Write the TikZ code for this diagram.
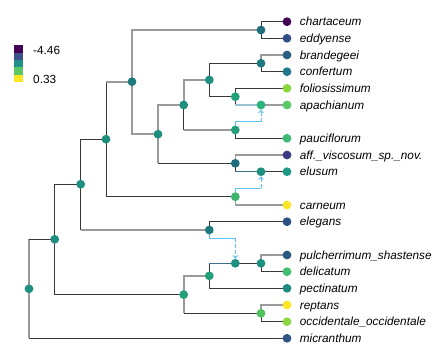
\documentclass[tikz,border=0pt]{standalone}
\usepackage{fontspec}
\setmainfont{Liberation Sans}
\usetikzlibrary{arrows.meta,backgrounds}

% branch colours
\definecolor{greyline}{HTML}{9A9A9A}
\definecolor{darkline}{HTML}{383838}
\definecolor{hybblue}{HTML}{5EC3F2}
\definecolor{majblue}{HTML}{3E6F8E}
\definecolor{majlight}{HTML}{9DC2D3}
% viridis scale
\definecolor{v1}{HTML}{440154}
\definecolor{v2}{HTML}{3B528B}
\definecolor{v3}{HTML}{21908C}
\definecolor{v4}{HTML}{5DC863}
\definecolor{v5}{HTML}{FDE725}
% node fills
\definecolor{tealA}{HTML}{1F8F80}
\definecolor{tealB}{HTML}{1F7A80}
\definecolor{tealC}{HTML}{1F6E7F}
\definecolor{greenA}{HTML}{22A07A}
\definecolor{greenB}{HTML}{2EB27C}
\definecolor{greenC}{HTML}{3EB46B}
\definecolor{greenD}{HTML}{50C060}
\definecolor{leddy}{HTML}{30508A}
\definecolor{lbrand}{HTML}{2B5F81}
\definecolor{lconf}{HTML}{22788B}
\definecolor{lfolio}{HTML}{8CD640}
\definecolor{lapach}{HTML}{5AC864}
\definecolor{lpauci}{HTML}{3CBB74}
\definecolor{laff}{HTML}{3A3A86}
\definecolor{lelus}{HTML}{1F9A89}
\definecolor{leleg}{HTML}{2A5183}
\definecolor{lpulch}{HTML}{29587F}
\definecolor{ldelic}{HTML}{44BF70}
\definecolor{lpect}{HTML}{1E8A82}
\definecolor{lmicr}{HTML}{2E5784}

\tikzset{
  vtx/.style={circle,inner sep=0pt,minimum size=8.8pt,fill=#1},
  lbl/.style={font=\fontsize{11.8}{14}\selectfont\itshape,inner sep=0pt,
    text height=8.4pt,text depth=0pt},
  leg/.style={font=\fontsize{11.8}{14}\selectfont,inner sep=0pt,
    text height=8.4pt,text depth=0pt,anchor=west},
  gr/.style={draw=greyline,line width=1.6pt},
  dk/.style={draw=darkline,line width=1pt},
  maj/.style={draw=majblue,line width=1.1pt},
  majlt/.style={draw=majlight,line width=1.4pt},
  hyb/.style={draw=hybblue,line width=1pt},
  hybarrow/.style={hyb,dash pattern=on 4pt off 2pt,
    -{Straight Barb[length=2.5pt,width=4.5pt]}}
}

\begin{document}
\begin{tikzpicture}[x=1pt,y=-1pt,label distance=8.1pt]
  \useasboundingbox (0,0) rectangle (432,360);
  % legend
  \fill[v1] (14,45.3) rectangle (22.7,52.7);
  \fill[v2] (14,52.7) rectangle (22.7,60.0);
  \fill[v3] (14,60.0) rectangle (22.7,67.3);
  \fill[v4] (14,67.3) rectangle (22.7,74.7);
  \fill[v5] (14,74.7) rectangle (22.7,82.0);
  \node[leg] (legmin) at (33,50.7) {-4.46};
  \node[leg] (legmax) at (33,79.3) {0.33};
  % tips
  \node[vtx=v1,label={[lbl]right:chartaceum}] (chart) at (287,21.7) {};
  \node[vtx=leddy,label={[lbl]right:eddyense}] (eddy) at (287,38.3) {};
  \node[vtx=lbrand,label={[lbl]right:brandegeei}] (brand) at (287,55.0) {};
  \node[vtx=lconf,label={[lbl]right:confertum}] (conf) at (287,71.7) {};
  \node[vtx=lfolio,label={[lbl]right:foliosissimum}] (folio) at (287,88.3) {};
  \node[vtx=lapach,label={[lbl]right:apachianum}] (apach) at (287,105.0) {};
  \node[vtx=lpauci,label={[lbl]right:pauciflorum}] (pauci) at (287,138.3) {};
  \node[vtx=laff,label={[lbl]right:aff.\_viscosum\_sp.\_nov.}] (aff) at (287,155.0) {};
  \node[vtx=lelus,label={[lbl]right:elusum}] (elus) at (287,171.7) {};
  \node[vtx=v5,label={[lbl]right:carneum}] (carn) at (287,205.0) {};
  \node[vtx=leleg,label={[lbl]right:elegans}] (eleg) at (287,221.7) {};
  \node[vtx=lpulch,label={[lbl]right:pulcherrimum\_shastense}] (pulch) at (287,255.0) {};
  \node[vtx=ldelic,label={[lbl]right:delicatum}] (delic) at (287,271.7) {};
  \node[vtx=lpect,label={[lbl]right:pectinatum}] (pect) at (287,288.3) {};
  \node[vtx=v5,label={[lbl]right:reptans}] (rept) at (287,305.0) {};
  \node[vtx=lfolio,label={[lbl]right:occidentale\_occidentale}] (occid) at (287,321.7) {};
  \node[vtx=lmicr,label={[lbl]right:micranthum}] (micr) at (287,338.3) {};
  % internal nodes
  \node[vtx=tealA] (root) at (29,288.8) {};
  \node[vtx=tealA] (n1) at (54.7,239.3) {};
  \node[vtx=tealA] (n2) at (80.7,184.2) {};
  \node[vtx=tealA] (n3) at (106,139.2) {};
  \node[vtx=tealB] (n4) at (132,81.7) {};
  \node[vtx=tealC] (n5) at (261,30.0) {};
  \node[vtx=tealA] (n6) at (158,134.2) {};
  \node[vtx=tealA] (n7) at (183.7,105.0) {};
  \node[vtx=tealA] (n8) at (209.3,79.9) {};
  \node[vtx=tealB] (n9) at (261,63.3) {};
  \node[vtx=greenA] (n10) at (235.3,96.7) {};
  \node[vtx=greenB] (n11) at (261,105.0) {};
  \node[vtx=greenA] (n12) at (235.3,130.0) {};
  \node[vtx=tealC] (n13) at (235.3,163.3) {};
  \node[vtx=tealA] (n14) at (261,171.7) {};
  \node[vtx=greenC] (n15) at (235.3,196.7) {};
  \node[vtx=tealB] (n16) at (209.3,230.0) {};
  \node[vtx=greenA] (n17) at (183.7,294.6) {};
  \node[vtx=greenA] (n18) at (209.3,275.8) {};
  \node[vtx=tealA] (n19) at (235.3,263.3) {};
  \node[vtx=tealA] (n20) at (261,263.3) {};
  \node[vtx=greenD] (n21) at (261,313.3) {};
  \coordinate (h6) at (261,121.7);
  \coordinate (h10) at (261,188.3);
  \coordinate (h13) at (235.3,238.3);
  \begin{pgfonlayer}{background}
    \draw[gr] (root.center) -- (root.center |- n1.center);
    \draw[dk] (root.center |- n1.center) -- (n1.center);
    \draw[gr] (root.center) -- (root.center |- micr.center);
    \draw[dk] (root.center |- micr.center) -- (micr.center);
    \draw[dk] (n1.center) |- (n2.center);
    \draw[dk] (n1.center) |- (n17.center);
    \draw[dk] (n2.center) |- (n3.center);
    \draw[dk] (n2.center) -- (n2.center |- n16.center);
    \draw[gr] (n2.center |- n16.center) -- (n16.center);
    \draw[dk] (n3.center) -- (n3.center |- n4.center);
    \draw[gr] (n3.center |- n4.center) -- (n4.center);
    \draw[dk] (n3.center) |- (n15.center);
    \draw[gr] (n4.center) |- (n5.center);
    \draw[gr] (n4.center) |- (n6.center);
    \draw[dk] (n5.center) |- (chart.center);
    \draw[dk] (n5.center) |- (eddy.center);
    \draw[gr] (n6.center) |- (n7.center);
    \draw[gr] (n6.center) -- (n6.center |- n13.center);
    \draw[dk] (n6.center |- n13.center) -- (n13.center);
    \draw[gr] (n7.center) |- (n8.center);
    \draw[dk] (n7.center) -- (n7.center |- n12.center);
    \draw[gr] (n7.center |- n12.center) -- (n12.center);
    \draw[dk] (n8.center) |- (n9.center);
    \draw[dk] (n8.center) |- (n10.center);
    \draw[gr] (n9.center) |- (brand.center);
    \draw[dk] (n9.center) |- (conf.center);
    \draw[dk] (n10.center) |- (folio.center);
    \draw[dk] (n10.center) -- (n10.center |- n11.center);
    \draw[majlt] (n10.center |- n11.center) -- (n11.center);
    \draw[gr] (n11.center) -- (apach.center);
    \draw[hyb] (n12.center) |- (h6);
    \draw[hybarrow] (h6) -- (n11);
    \draw[dk] (n12.center) |- (pauci.center);
    \draw[gr] (n13.center) |- (aff.center);
    \draw[dk] (n13.center) -- (n13.center |- n14.center);
    \draw[maj] (n13.center |- n14.center) -- (n14.center);
    \draw[dk] (n14.center) -- (elus.center);
    \draw[hyb] (n15.center) |- (h10);
    \draw[hybarrow] (h10) -- (n14);
    \draw[gr] (n15.center) |- (carn.center);
    \draw[dk] (n16.center) |- (eleg.center);
    \draw[hyb] (n16.center) |- (h13);
    \draw[hybarrow] (h13) -- (n19);
    \draw[gr] (n17.center) |- (n18.center);
    \draw[gr] (n17.center) -- (n17.center |- n21.center);
    \draw[dk] (n17.center |- n21.center) -- (n21.center);
    \draw[dk] (n18.center) -- (n18.center |- n19.center);
    \draw[maj] (n18.center |- n19.center) -- (n19.center);
    \draw[dk] (n18.center) |- (pect.center);
    \draw[dk] (n19.center) -- (n20.center);
    \draw[gr] (n20.center) |- (pulch.center);
    \draw[dk] (n20.center) |- (delic.center);
    \draw[gr] (n21.center) |- (rept.center);
    \draw[dk] (n21.center) |- (occid.center);
  \end{pgfonlayer}
\end{tikzpicture}
\end{document}
